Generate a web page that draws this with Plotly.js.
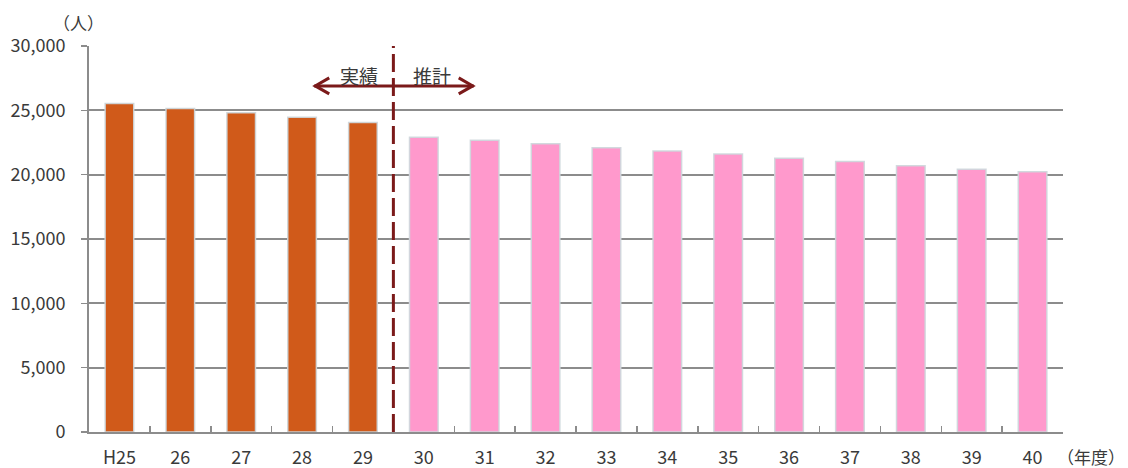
<!DOCTYPE html>
<html>
<head>
<meta charset="utf-8">
<script src="https://cdn.plot.ly/plotly-3.0.1.min.js"></script>
<style>html,body{margin:0;padding:0;background:#fff;}#chart{width:1128px;height:468px;}</style>
</head>
<body>
<div id="chart"></div>
<script>
const categories = ["H25","26","27","28","29","30","31","32","33","34","35","36","37","38","39","40"];
const population = [25530,25140,24805,24470,24047,22906,22672,22406,22094,21836,21600,21270,21030,20690,20430,20220];
const isActual = [true,true,true,true,true,false,false,false,false,false,false,false,false,false,false,false];
const yTicks = [0,5000,10000,15000,20000,25000,30000];
const yTickText = ["0","5,000","10,000","15,000","20,000","25,000","30,000"];

const ORANGE = "#D05A1A";
const PINK = "#FF99CC";
const DARKRED = "#7B1A1A";
const FONT = "'Noto Sans CJK JP', 'Noto Sans', sans-serif";
const TXT = "#3a3a3a";

const trace = {
  type: "bar",
  x: categories,
  y: population,
  marker: {
    color: isActual.map(a => a ? ORANGE : PINK),
    line: {color: "rgba(205,215,220,0.9)", width: 1.5}
  },
  hoverinfo: "x+y"
};

const layout = {
  width: 1128, height: 468,
  margin: {l: 89, r: 65, t: 46, b: 36},
  paper_bgcolor: "#ffffff",
  plot_bgcolor: "#ffffff",
  showlegend: false,
  bargap: 0.53,
  font: {family: FONT, size: 18, color: TXT},
  xaxis: {
    type: "category",
    showline: true, linecolor: "#8c8c8c", linewidth: 2,
    ticks: "inside", tickson: "boundaries", ticklen: 6, tickcolor: "#8c8c8c", tickwidth: 1.5,
    showgrid: false, zeroline: false,
    tickfont: {family: FONT, size: 18, color: TXT},
    ticklabelstandoff: 8
  },
  yaxis: {
    range: [0, 30000],
    tickvals: yTicks, ticktext: yTickText,
    showline: true, linecolor: "#8c8c8c", linewidth: 2,
    ticks: "outside", ticklen: 6, tickcolor: "#8c8c8c", tickwidth: 1.5,
    showgrid: true, gridcolor: "#8c8c8c", gridwidth: 2,
    zeroline: false,
    tickfont: {family: FONT, size: 18, color: TXT},
    ticklabelstandoff: 12
  },
  shapes: [
    {type: "line", xref: "x", yref: "paper", x0: 4.5, x1: 4.5, y0: 0, y1: 1,
     line: {color: DARKRED, width: 3, dash: "18px,6px"}},
    {type: "line", xref: "x", yref: "y", x0: 3.2, x1: 5.82, y0: 26900, y1: 26900,
     line: {color: DARKRED, width: 3}},
    {type: "path", xref: "x", yref: "y", xsizemode: "pixel", ysizemode: "pixel",
     xanchor: 3.2, yanchor: 26900, path: "M15,8 L1,0 L15,-8",
     line: {color: DARKRED, width: 3}},
    {type: "path", xref: "x", yref: "y", xsizemode: "pixel", ysizemode: "pixel",
     xanchor: 5.82, yanchor: 26900, path: "M-15,8 L-1,0 L-15,-8",
     line: {color: DARKRED, width: 3}}
  ],
  annotations: [
    {xref: "x", yref: "y", x: 3.93, y: 27700, text: "実績", showarrow: false,
     font: {family: FONT, size: 19, color: TXT}, xanchor: "center", yanchor: "middle"},
    {xref: "x", yref: "y", x: 5.13, y: 27700, text: "推計", showarrow: false,
     font: {family: FONT, size: 19, color: TXT}, xanchor: "center", yanchor: "middle"},
    {xref: "paper", yref: "paper", x: -0.0103, y: 1.0, yshift: 24, text: "（人）", showarrow: false,
     font: {family: FONT, size: 17, color: TXT}, xanchor: "center", yanchor: "middle"},
    {xref: "paper", yref: "paper", x: 1.0, y: 0, yshift: -24, xshift: 63, text: "（年度）", showarrow: false,
     borderpad: 0, font: {family: FONT, size: 17, color: TXT}, xanchor: "right", yanchor: "middle"}
  ]
};

Plotly.newPlot("chart", [trace], layout, {staticPlot: true, displayModeBar: false});
</script>
</body>
</html>
